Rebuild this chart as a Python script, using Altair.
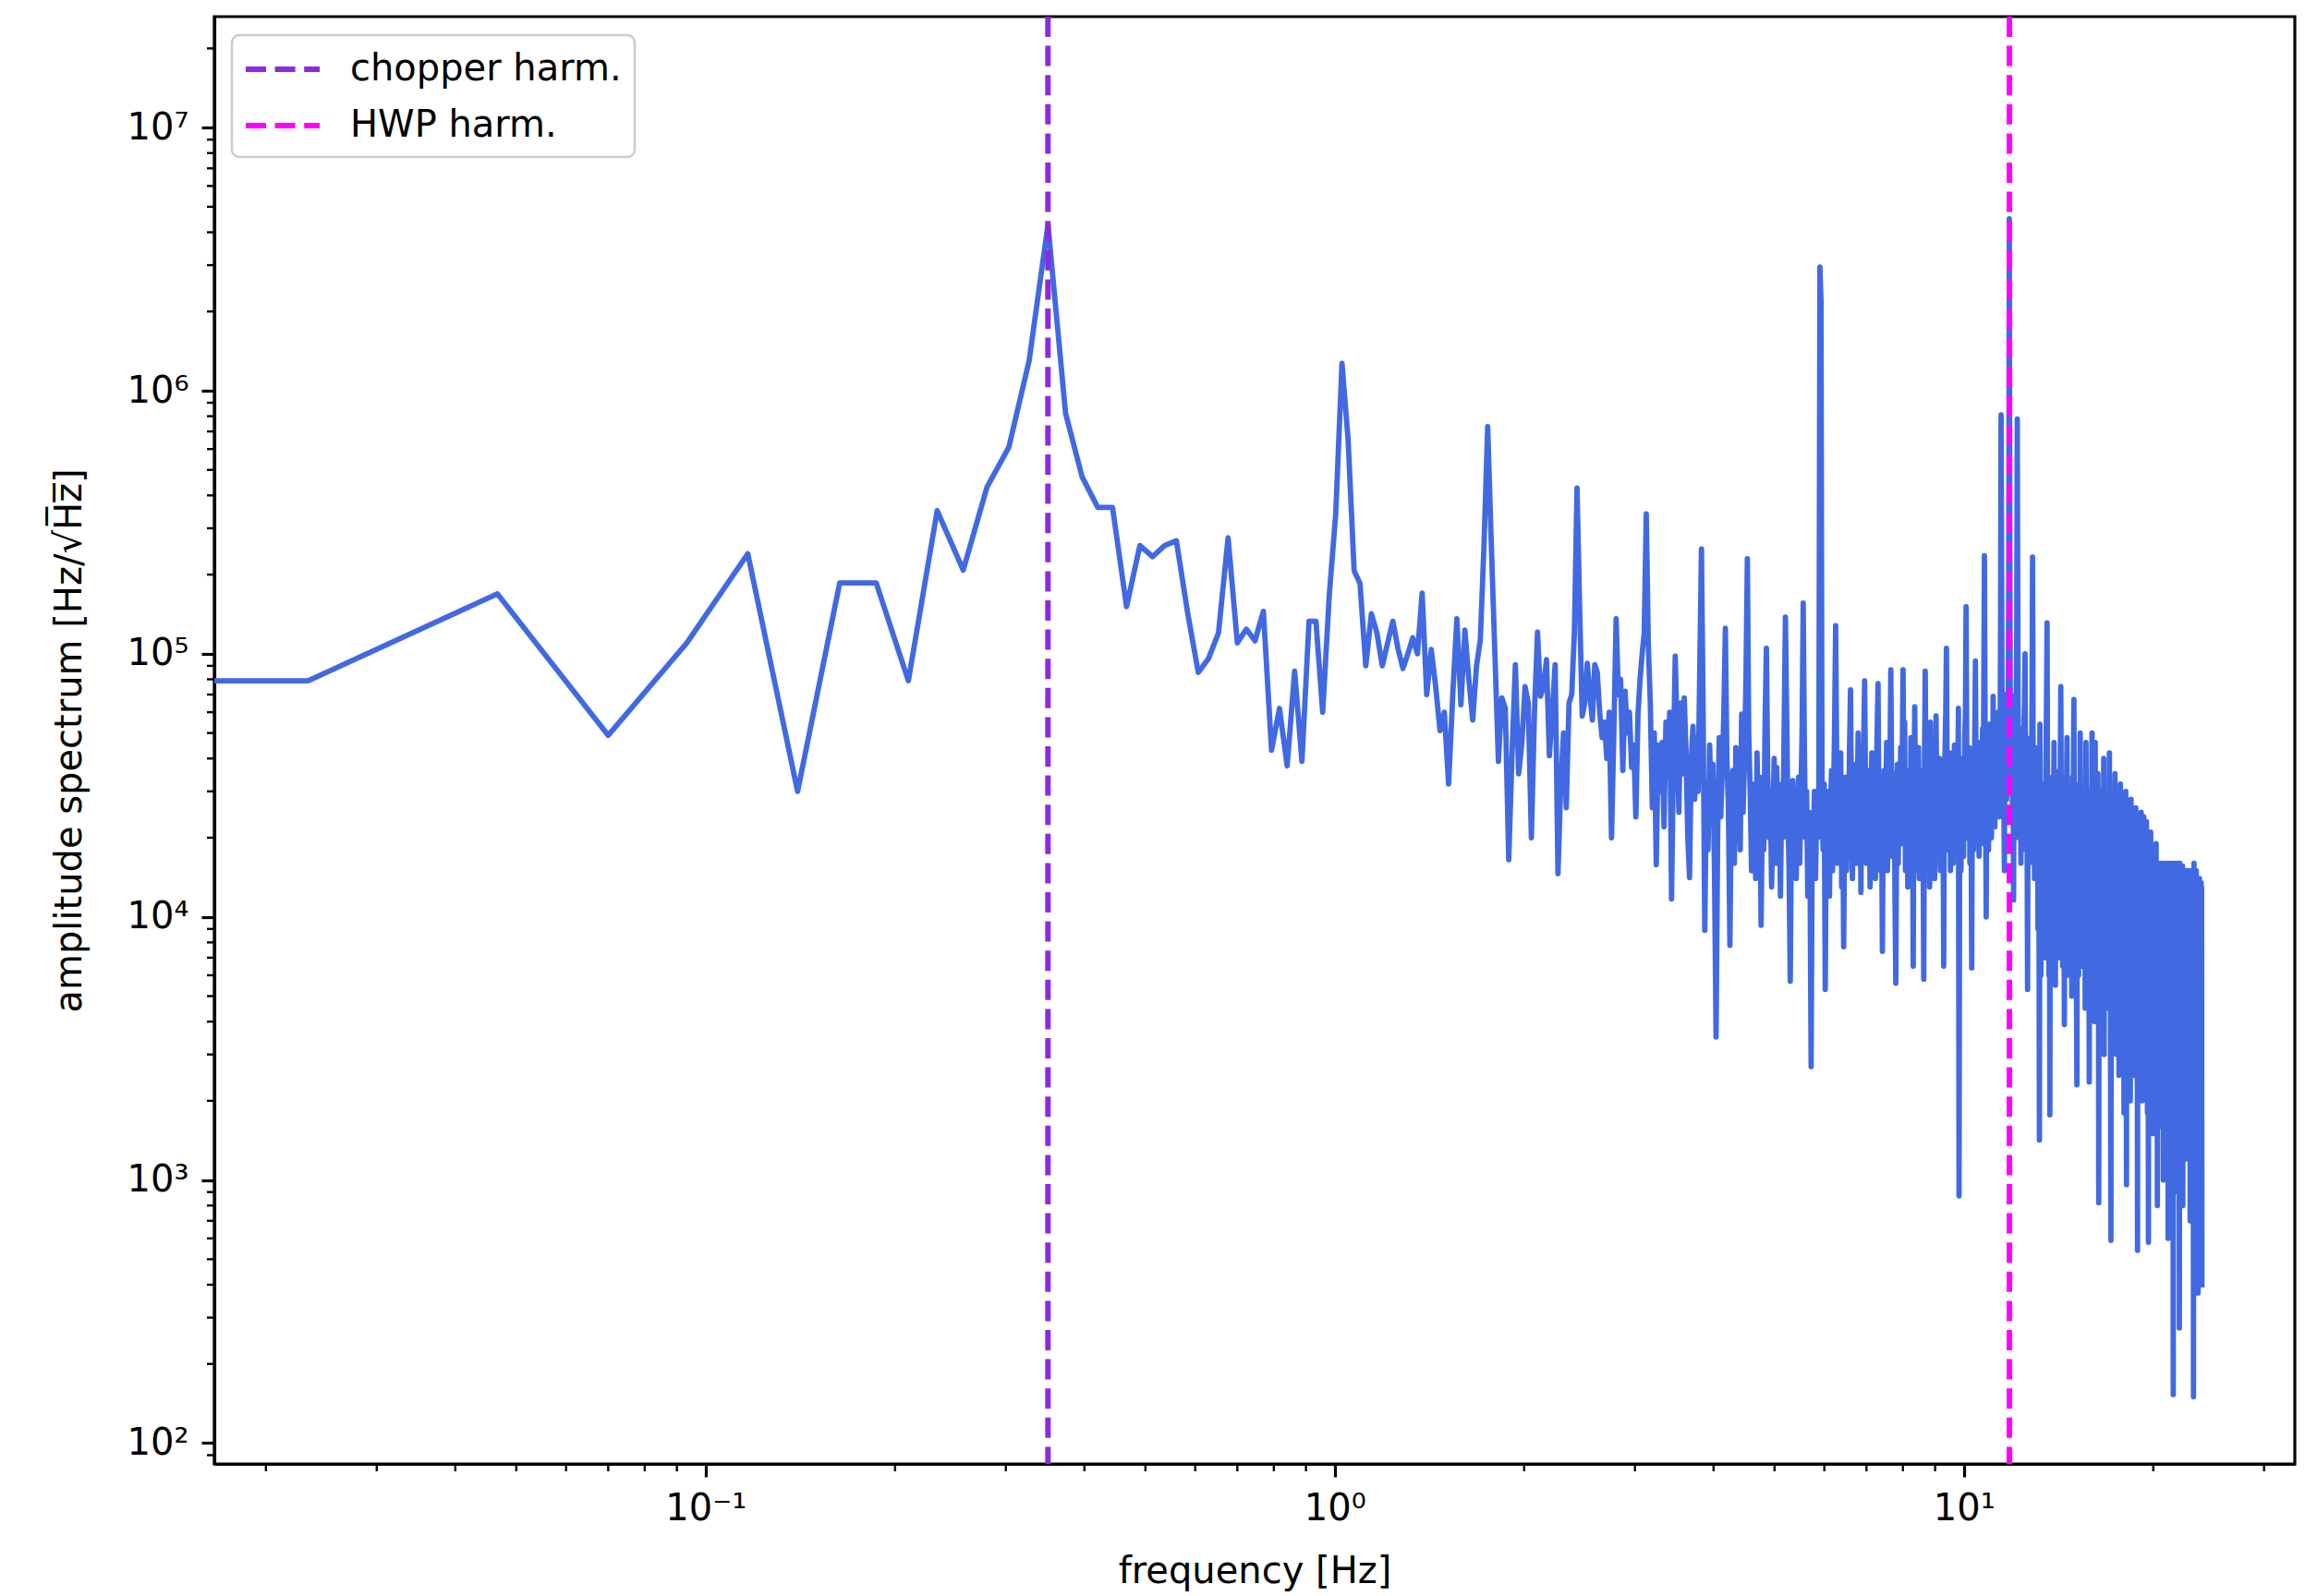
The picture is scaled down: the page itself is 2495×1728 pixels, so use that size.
import altair as alt
import numpy as np
import pandas as pd

# FFT bin spacing of the amplitude spectrum (Hz)
BIN_WIDTH_HZ = 0.023333

# Amplitude spectrum [Hz/sqrt(Hz)], one value per FFT bin, starting at the DC bin
amplitude = [
    7.9e4, 7.9e4, 1.69e5, 4.9e4, 1.1e5, 2.4e5, 3.0e4, 1.86e5, 1.86e5, 7.9e4,
    3.5e5, 2.08e5, 4.3e5, 6.1e5, 1.3e6, 4.27e6, 8.2e5, 4.7e5, 3.6e5, 3.6e5,
    1.51e5, 2.58e5, 2.34e5, 2.58e5, 2.69e5, 1.44e5, 8.5e4, 9.6e4, 1.2e5, 2.76e5,
    1.1e5, 1.24e5, 1.12e5, 1.45e5, 4.3e4, 6.2e4, 3.75e4, 8.6e4, 3.9e4, 1.33e5,
    1.33e5, 6.0e4, 1.67e5, 3.4e5, 1.27e6, 6.5e5, 2.07e5, 1.85e5, 9.0e4, 1.42e5,
    1.2e5, 9.0e4, 1.1e5, 1.33e5, 1.05e5, 8.8e4, 1.0e5, 1.15e5, 1.0e5, 1.7e5,
    7.0e4, 1.04e5, 7.5e4, 5.1e4, 6.0e4, 3.2e4, 7.0e4, 1.36e5, 6.4e4, 1.23e5,
    8.0e4, 5.6e4, 9.0e4, 1.13e5, 2.6e5, 7.3e5, 2.6e5, 1.0e5, 3.9e4, 6.8e4,
    6.2e4, 1.65e4, 4.2e4, 9.1e4, 3.5e4, 4.6e4, 7.5e4, 6.5e4, 2.0e4, 6.0e4,
    1.21e5, 6.9e4, 7.5e4, 9.5e4, 4.1e4, 6.0e4, 9.1e4, 1.46e4, 3.2e4, 5.0e4,
    2.6e4, 6.5e4, 7.0e4, 1.2e5, 4.27e5, 1.5e5, 5.8e4, 6.5e4, 9.2e4, 7.0e4,
    5.6e4, 9.1e4, 8.5e4, 6.0e4, 4.8e4, 5.5e4, 4.0e4, 6.0e4, 2.0e4, 5.0e4,
    1.36e5, 7.0e4, 8.0e4, 3.6e4, 7.2e4, 5.0e4, 6.0e4, 3.7e4, 4.5e4, 2.4e4,
    5.9e4, 8.0e4, 1.0e5, 1.2e5, 3.4e5, 1.1e5, 6.5e4, 2.6e4, 5.0e4, 1.58e4,
    4.5e4, 3.0e4, 4.6e4, 2.2e4, 5.5e4, 3.4e4, 6.0e4, 1.17e4, 4.0e4, 9.8e4,
    5.0e4, 2.5e4, 6.5e4, 3.5e4, 6.8e4, 4.2e4, 2.0e4, 1.41e4, 4.0e4, 5.3e4,
    2.8e4, 4.8e4, 3.0e4, 9.0e4, 2.5e5, 6.0e4, 8.9e3, 3.2e4, 1.8e4, 4.5e4,
    2.6e4, 3.8e4, 1.5e4, 3.5e3, 2.0e4, 4.8e4, 2.4e4, 3.6e4, 6.0e4, 1.25e5,
    4.0e4, 2.6e4, 7.8e3, 3.0e4, 3.6e4, 1.6e4, 4.4e4, 2.2e4, 3.2e4, 1.8e4,
    5.9e4, 2.5e4, 4.0e4, 8.0e4, 2.3e5, 5.0e4, 3.0e4, 1.5e4, 2.6e4, 3.2e4,
    1.4e4, 4.2e4, 2.2e4, 3.4e4, 9.3e3, 2.8e4, 1.8e4, 5.5e4, 1.05e5, 3.5e4,
    2.0e4, 3.0e4, 1.3e4, 2.4e4, 4.0e4, 1.6e4, 3.7e4, 2.2e4, 2.8e4, 1.2e4,
    3.2e4, 2.0e4, 5.5e4, 1.38e5, 6.0e4, 2.5e4, 1.5e4, 5.7e3, 2.4e4, 3.3e4,
    1.8e4, 3.0e4, 1.4e4, 2.6e4, 3.4e4, 1.6e4, 2.8e4, 5.0e4, 1.56e5, 4.5e4,
    2.0e4, 3.0e4, 1.2e4, 2.5e4, 1.6e4, 2.7e3, 2.2e4, 1.9e4, 3.0e4, 1.4e4,
    2.6e4, 2.0e4, 3.0e4, 2.95e6, 2.2e6, 2.6e4, 1.8e4, 3.2e4, 5.3e3, 2.4e4,
    1.6e4, 3.0e4, 1.2e4, 2.6e4, 3.6e4, 1.5e4, 2.8e4, 5.5e4, 1.28e5, 4.0e4,
    1.6e4, 3.0e4, 2.2e4, 4.2e4, 1.3e4, 2.8e4, 7.7e3, 2.4e4, 3.4e4, 1.5e4,
    3.0e4, 2.0e4, 4.5e4, 7.3e4, 2.6e4, 1.4e4, 3.2e4, 2.0e4, 3.8e4, 1.6e4,
    2.7e4, 5.0e4, 2.2e4, 3.1e4, 1.24e4, 3.4e4, 2.0e4, 4.6e4, 7.9e4, 3.0e4,
    1.6e4, 3.6e4, 2.2e4, 2.9e4, 1.3e4, 3.0e4, 4.2e4, 1.8e4, 2.6e4, 3.8e4,
    1.4e4, 3.2e4, 5.2e4, 7.7e4, 2.4e4, 3.3e4, 1.5e4, 2.7e4, 7.4e3, 2.5e4,
    3.6e4, 1.8e4, 2.8e4, 4.6e4, 1.5e4, 3.0e4, 2.0e4, 4.0e4, 8.7e4, 3.2e4,
    1.7e4, 2.8e4, 3.5e4, 1.2e4, 5.6e3, 2.2e4, 3.8e4, 1.6e4, 3.0e4, 2.2e4,
    4.4e4, 1.9e4, 4.0e4, 8.7e4, 3.0e4, 5.5e4, 1.5e4, 2.8e4, 3.6e4, 1.3e4,
    2.6e4, 3.3e4, 1.7e4, 4.8e4, 2.2e4, 3.0e4, 6.5e3, 3.4e4, 6.3e4, 2.6e4,
    1.5e4, 3.2e4, 2.4e4, 4.4e4, 1.4e4, 2.8e4, 3.6e4, 1.6e4, 3.0e4, 2.0e4,
    5.8e3, 4.0e4, 8.6e4, 3.0e4, 1.5e4, 3.5e4, 2.4e4, 4.6e4, 1.3e4, 5.5e4,
    2.2e4, 3.1e4, 1.6e4, 3.8e4, 2.6e4, 1.4e4, 3.4e4, 5.8e4, 2.8e4, 1.8e4,
    3.3e4, 2.0e4, 4.0e4, 1.5e4, 2.9e4, 3.6e4, 1.7e4, 2.7e4, 6.5e3, 3.0e4,
    4.4e4, 6.0e4, 1.05e5, 3.5e4, 1.8e4, 3.0e4, 2.3e4, 4.2e4, 1.5e4, 3.2e4,
    2.0e4, 3.7e4, 1.6e4, 2.8e4, 4.5e4, 2.0e4, 3.2e4, 4.0e4, 1.8e4, 3.0e4,
    6.2e4, 8.7e2, 2.6e4, 3.4e4, 1.5e4, 3.0e4, 2.2e4, 4.0e4, 1.7e4, 3.3e4,
    5.0e4, 6.0e4, 1.51e5, 4.5e4, 2.0e4, 3.5e4, 2.6e4, 4.4e4, 1.6e4, 3.2e4,
    2.4e4, 6.4e3, 3.0e4, 4.2e4, 1.8e4, 3.4e4, 5.0e4, 9.4e4, 3.6e4, 2.0e4,
    3.8e4, 2.8e4, 4.6e4, 1.7e4, 3.5e4, 2.4e4, 4.4e4, 1.9e4, 3.6e4, 5.2e4,
    2.5e4, 8.0e4, 2.36e5, 6.0e4, 2.6e4, 1.0e4, 3.8e4, 2.6e4, 4.6e4, 1.8e4,
    3.6e4, 5.4e4, 2.4e4, 4.0e4, 2.0e4, 4.8e4, 3.0e4, 6.9e4, 3.2e4, 5.0e4,
    2.2e4, 4.2e4, 5.6e4, 2.6e4, 4.4e4, 3.0e4, 6.0e4, 2.4e4, 4.8e4, 3.4e4,
    1.1e5, 8.1e5, 2.0e5, 5.0e4, 3.0e4, 6.0e4, 2.8e4, 1.5e4, 5.5e4, 3.6e4,
    7.0e4, 2.8e4, 5.0e4, 3.4e4, 6.5e4, 2.0e5, 4.5e6, 2.5e5, 4.6e4, 7.0e4,
    3.0e4, 5.4e4, 2.4e4, 6.0e4, 1.16e4, 4.4e4, 2.8e4, 5.6e4, 3.2e4, 6.5e4,
    1.2e5, 7.8e5, 1.4e5, 4.0e4, 2.0e4, 5.0e4, 3.0e4, 4.6e4, 1.6e4, 3.8e4,
    5.2e4, 2.2e4, 4.2e4, 2.8e4, 5.6e4, 6.5e4, 1.0e5, 3.4e4, 1.8e4, 4.0e4,
    2.6e4, 5.3e3, 3.2e4, 4.6e4, 1.6e4, 3.6e4, 2.4e4, 4.8e4, 2.0e4, 3.8e4,
    7.0e4, 2.33e5, 5.0e4, 2.2e4, 3.6e4, 1.4e4, 3.0e4, 4.4e4, 1.8e4, 3.4e4,
    2.4e4, 3.0e4, 9.0e3, 2.6e4, 1.4e4, 1.42e3, 5.4e4, 2.0e4, 6.0e3, 2.4e4,
    1.2e4, 1.8e4, 3.2e4, 1.0e4, 2.6e4, 7.0e3, 3.0e4, 1.6e4, 2.2e4, 4.5e4,
    7.0e4, 1.31e5, 3.0e4, 1.2e4, 2.5e4, 6.0e3, 2.0e4, 1.77e3, 2.4e4, 1.3e4,
    3.0e4, 8.0e3, 2.2e4, 3.4e4, 1.1e4, 2.6e4, 4.6e4, 1.6e4, 2.8e4, 5.5e3,
    2.0e4, 3.2e4, 9.0e3, 2.4e4, 1.4e4, 3.0e4, 7.0e3, 2.2e4, 3.6e4, 1.2e4,
    4.0e4, 7.5e4, 2.6e4, 1.0e4, 2.8e4, 6.5e3, 2.4e4, 3.4e4, 1.4e4, 3.9e3,
    2.2e4, 1.1e4, 2.8e4, 8.0e3, 3.2e4, 4.8e4, 2.0e4, 1.2e4, 2.6e4, 6.0e3,
    2.0e4, 3.0e4, 9.0e3, 2.4e4, 1.3e4, 2.8e4, 5.0e3, 2.2e4, 3.4e4, 1.1e4,
    4.0e4, 6.7e4, 2.2e4, 8.0e3, 2.6e4, 1.2e4, 3.0e4, 5.5e3, 2.3e3, 2.8e4,
    1.0e4, 2.4e4, 6.0e3, 2.0e4, 3.2e4, 1.3e4, 5.0e4, 7.0e3, 2.6e4, 1.1e4,
    2.4e4, 6.5e3, 2.0e4, 3.0e4, 8.5e3, 2.2e4, 1.4e4, 2.8e4, 4.5e3, 2.4e4,
    4.6e4, 1.8e4, 7.0e3, 2.2e4, 1.2e4, 2.6e4, 5.0e3, 1.8e4, 2.36e3, 2.2e4,
    3.0e4, 9.0e3, 2.0e4, 1.2e4, 2.6e4, 5.0e4, 1.6e4, 6.0e3, 2.2e4, 1.0e4,
    2.4e4, 4.0e3, 1.8e4, 4.6e4, 8.0e3, 2.0e4, 1.1e4, 2.6e4, 5.5e3, 2.2e4,
    3.5e4, 1.6e4, 8.2e2, 1.8e4, 9.0e3, 3.0e4, 3.5e3, 1.6e4, 2.4e4, 6.0e3,
    1.4e4, 4.0e3, 2.2e4, 1.0e4, 1.8e4, 4.0e4, 3.0e3, 2.0e4, 7.0e3, 1.5e4,
    2.6e4, 5.0e3, 1.8e4, 1.2e4, 2.2e4, 4.5e3, 2.0e4, 1.0e4, 1.6e4, 2.4e4,
    4.2e4, 8.0e3, 1.7e4, 2.8e3, 5.9e2, 1.9e4, 1.1e4, 2.2e4, 5.0e3, 1.5e4,
    2.6e4, 3.8e3, 1.4e4, 9.0e3, 1.6e4, 3.5e4, 6.0e3, 1.8e4, 2.2e4, 3.0e3,
    1.4e4, 2.0e4, 5.5e3, 1.6e4, 1.0e4, 2.2e4, 2.5e3, 1.5e4, 2.0e4, 7.0e3,
    3.2e4, 1.2e4, 1.6e4, 3.0e3, 1.8e4, 1.2e4, 2.4e4, 4.0e3, 1.4e4, 2.0e4,
    1.8e3, 1.6e4, 8.0e3, 2.2e4, 4.5e3, 3.0e4, 1.2e4, 9.6e2, 1.8e4, 2.6e3,
    1.5e4, 2.2e4, 6.0e3, 1.6e4, 3.5e3, 1.9e4, 1.0e4, 2.0e4, 2.0e3, 1.4e4,
    2.8e4, 5.0e3, 1.6e4, 2.2e4, 8.0e3, 2.0e4, 3.0e3, 1.4e4, 2.2e4, 6.5e3,
    1.5e4, 2.5e3, 1.8e4, 1.1e4, 2.6e4, 2.0e4, 4.0e3, 1.5e4, 2.2e4, 5.4e2,
    1.6e4, 2.2e3, 1.4e4, 2.0e4, 5.0e3, 1.5e4, 9.0e3, 1.8e4, 3.0e3, 1.4e4,
    2.5e4, 1.2e4, 1.6e4, 2.0e3, 1.4e4, 2.0e4, 6.0e3, 1.5e4, 2.4e4, 3.5e3,
    1.7e4, 9.0e3, 1.8e4, 1.2e4, 2.8e3, 1.4e4, 2.3e4, 5.0e3, 1.2e4, 1.8e3,
    1.6e4, 8.0e3, 5.8e2, 1.8e4, 3.0e3, 1.3e4, 2.0e4, 4.5e3, 1.5e4, 2.1e4,
    6.0e3, 1.4e4, 2.5e3, 1.6e4, 9.0e3, 1.7e4, 1.5e3, 1.3e4, 1.8e4, 4.0e3,
    1.2e4, 7.0e3, 1.6e4, 2.2e3, 1.4e4, 1.0e4, 1.9e4, 3.0e3, 1.2e4, 1.6e4,
    8.0e2, 1.3e4, 6.0e3, 1.5e4, 2.0e3, 1.4e4, 1.0e4, 1.6e4, 3.5e3, 1.2e4,
    1.5e4, 1.6e3, 1.4e4, 8.0e3, 1.6e4, 2.5e3, 1.3e4, 5.0e3, 1.5e4, 1.0e3,
    1.2e4, 1.6e4, 4.0e3, 1.3e4, 7.0e3, 1.5e4, 1.8e3, 1.2e4, 1.6e4, 3.0e3,
    1.4e4, 9.0e3, 1.5e4, 2.2e3, 1.3e4, 6.0e2, 1.2e4, 1.6e4, 4.5e3, 1.4e4,
    8.0e3, 1.5e4, 2.0e3, 1.3e4, 1.0e4, 1.6e4, 3.0e3, 1.2e4, 6.0e3, 1.4e4,
    1.2e3, 1.3e4, 1.53e2, 1.5e4, 5.0e3, 1.2e4, 1.6e4, 2.5e3, 1.4e4, 8.0e3,
    1.5e4, 1.5e3, 1.3e4, 7.0e3, 1.5e4, 2.8e3, 1.2e4, 1.6e4, 4.0e3, 1.3e4,
    9.0e2, 1.4e4, 6.0e3, 2.74e2, 1.2e4, 1.6e4, 3.5e3, 1.3e4, 1.0e4, 1.5e4,
    2.0e3, 1.2e4, 5.0e3, 1.4e4, 1.56e4, 8.0e2, 1.3e4, 7.0e3, 1.5e4, 2.5e3,
    1.2e4, 1.5e4, 4.0e3, 1.3e4, 1.2e3, 1.4e4, 9.0e3, 1.5e4, 3.0e3, 1.2e4,
    6.0e3, 1.4e4, 1.6e3, 1.3e4, 1.5e4, 5.0e3, 1.2e4, 2.2e3, 1.4e4, 8.0e3,
    1.5e4, 7.0e2, 1.3e4, 6.0e3, 1.4e4, 2.8e3, 1.2e4, 1.5e4, 4.0e3, 1.3e4,
    1.8e3, 1.4e4, 9.0e3, 1.5e2, 1.3e4, 1.6e4, 3.5e3, 1.2e4, 6.0e3, 1.4e4,
    1.4e3, 1.3e4, 1.0e4, 1.5e4, 2.5e3, 1.2e4, 5.0e3, 1.4e4, 1.0e3, 1.3e4,
    3.72e2, 1.4e4, 7.0e3, 1.2e4, 2.0e3, 1.4e4, 9.0e3, 1.3e4, 3.0e3, 1.2e4,
    1.5e3, 1.35e4, 6.0e3, 1.3e4, 4.0e2,
]

# Reference lines
harmonic_labels = ["chopper harm.", "HWP harm."]
harmonic_freqs = [0.35, 11.81]
harmonic_colors = ["#8A2BE2", "#FF00FF"]

# Axis ranges (log10 units)
X_LOG_RANGE = (-1.781, 1.526)
Y_LOG_RANGE = (1.921, 7.4217)

PLOT_W, PLOT_H = 2252, 1567
FONT = "DejaVu Sans"
LINE_COLOR = "#4169E1"

freq = np.arange(len(amplitude)) * BIN_WIDTH_HZ
# the DC bin is kept on the log axis at a vanishingly small positive frequency
freq = np.where(freq > 0, freq, 1e-300)
spectrum = pd.DataFrame({"freq": freq, "amp": amplitude})
harmonics = pd.DataFrame({"label": harmonic_labels, "freq": harmonic_freqs})

x_dom = [10.0 ** X_LOG_RANGE[0], 10.0 ** X_LOG_RANGE[1]]
y_dom = [10.0 ** Y_LOG_RANGE[0], 10.0 ** Y_LOG_RANGE[1]]


def decade_ticks(lo, hi, e_lo, e_hi):
    major, minor = [], []
    for e in range(e_lo, e_hi + 1):
        for m in range(1, 10):
            v = m * 10.0 ** e
            if lo <= v <= hi:
                (major if m == 1 else minor).append(v)
    return major, minor


x_major, x_minor = decade_ticks(x_dom[0], x_dom[1], -2, 2)
y_major, y_minor = decade_ticks(y_dom[0], y_dom[1], 1, 8)

SUP = "['⁻²','⁻¹','⁰','¹','²','³','⁴','⁵','⁶','⁷','⁸']"
LABEL_EXPR = f"'10' + {SUP}[round(log(datum.value)/LN10) + 2]"

common_axis = dict(
    labelExpr=LABEL_EXPR,
    labelOverlap=False,
    labelFlush=False,
    grid=False,
    tickSize=14,
    tickWidth=3.2,
    labelPadding=14,
    labelFont=FONT,
    labelFontSize=40,
    titleFont=FONT,
    titleFontSize=40,
    titleFontWeight="normal",
    labelColor="black",
    titleColor="black",
    domainColor="black",
    domainWidth=3.2,
    tickColor="black",
)

x_enc = alt.X(
    "freq:Q",
    scale=alt.Scale(type="log", domain=x_dom, nice=False),
    axis=alt.Axis(values=x_major, title="frequency [Hz]", titlePadding=28, **common_axis),
)
y_enc = alt.Y(
    "amp:Q",
    scale=alt.Scale(type="log", domain=y_dom, nice=False),
    axis=alt.Axis(values=y_major, title="amplitude spectrum [Hz/√H̅z̅]", titlePadding=42, **common_axis),
)

line = alt.Chart(spectrum).mark_line(
    color=LINE_COLOR, strokeWidth=5.8, strokeJoin="round", strokeCap="square", clip=True
).encode(x=x_enc, y=y_enc)

# legend sample: a horizontal dash twice as wide as the nominal symbol box
LEGEND_SAMPLE_PATH = "M-2,0H2"

vlines = alt.Chart(harmonics).mark_rule(
    strokeWidth=6, strokeDash=[22, 9.6], clip=True
).encode(
    x=x_enc,
    color=alt.Color(
        "label:N",
        scale=alt.Scale(domain=harmonic_labels, range=harmonic_colors),
        legend=alt.Legend(
            title=None,
            orient="none",
            legendX=19,
            legendY=20,
            symbolType=LEGEND_SAMPLE_PATH,
            symbolStrokeWidth=6,
            symbolSize=1600,
            symbolDash=[22, 9.6],
            symbolOffset=18,
            labelFont=FONT,
            labelFontSize=40,
            labelColor="black",
            labelLimit=800,
            labelOffset=50,
            labelExpr="datum.label + '\u00a0'",
            rowPadding=18,
            padding=14,
            fillColor="rgba(255,255,255,0.8)",
            strokeColor="#cccccc",
            cornerRadius=8,
        ),
    ),
)

# minor ticks of the log axes
x_minor_ticks = alt.Chart(pd.DataFrame({"freq": x_minor})).mark_rule(
    color="black", strokeWidth=2.4
).encode(x=x_enc, y=alt.value(PLOT_H), y2=alt.value(PLOT_H + 8))

y_minor_ticks = alt.Chart(pd.DataFrame({"amp": y_minor})).mark_rule(
    color="black", strokeWidth=2.4
).encode(y=y_enc, x=alt.value(0), x2=alt.value(-8))

chart = (
    alt.layer(line, vlines, x_minor_ticks, y_minor_ticks)
    .properties(
        width=PLOT_W,
        height=PLOT_H,
        padding={"left": 232, "top": 18, "right": 11, "bottom": 143},
        autosize=alt.AutoSizeParams(type="none"),
        background="white",
    )
    .configure_view(stroke="black", strokeWidth=3.2)
    .configure_legend(strokeWidth=2.5)
)

chart.save("out.html", embed_options={"renderer": "svg", "actions": False})
